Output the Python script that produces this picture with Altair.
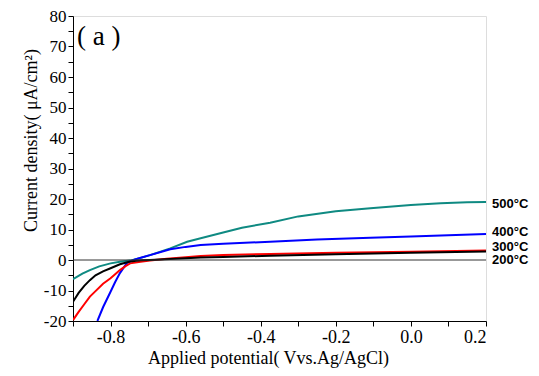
import altair as alt
import pandas as pd

# 500°C (teal)
x500 = [-0.9, -0.875, -0.855, -0.83, -0.8, -0.775, -0.748, -0.72, -0.695, -0.641, -0.596, -0.56, -0.5, -0.45, -0.375, -0.3, -0.2, -0.108, 0.0, 0.079, 0.15, 0.2]
y500 = [-6.3, -4.5, -3.3, -2.1, -1.1, -0.6, -0.2, 0.7, 1.6, 3.8, 6.0, 7.1, 9.0, 10.6, 12.2, 14.3, 16.0, 17.0, 18.0, 18.6, 18.9, 19.0]
# 400°C (blue)
x400 = [-0.835, -0.82, -0.8, -0.788, -0.775, -0.765, -0.756, -0.735, -0.715, -0.695, -0.641, -0.6, -0.56, -0.5, -0.375, -0.25, -0.108, 0.0, 0.1, 0.2]
y400 = [-20.0, -15.5, -10.4, -7.3, -4.3, -2.5, -0.9, 0.2, 0.9, 1.6, 3.5, 4.3, 4.9, 5.3, 6.0, 6.7, 7.3, 7.7, 8.1, 8.5]
# 300°C (red)
x300 = [-0.9, -0.885, -0.87, -0.855, -0.84, -0.82, -0.8, -0.787, -0.775, -0.76, -0.748, -0.72, -0.695, -0.65, -0.6, -0.56, -0.5, -0.375, -0.2, 0.0, 0.2]
y300 = [-19.7, -17.0, -14.5, -12.0, -10.2, -7.8, -6.0, -4.6, -3.3, -2.0, -1.1, -0.6, -0.2, 0.4, 0.9, 1.3, 1.6, 2.0, 2.4, 2.7, 3.1]
# 200°C (black)
x200 = [-0.9, -0.885, -0.87, -0.855, -0.84, -0.82, -0.8, -0.775, -0.748, -0.72, -0.695, -0.6, -0.56, -0.5, -0.375, -0.2, 0.0, 0.2]
y200 = [-13.7, -10.8, -8.5, -6.6, -5.0, -3.7, -2.7, -1.4, -0.5, -0.1, 0.0, 0.6, 0.8, 1.0, 1.4, 1.9, 2.4, 2.8]

labels = ["500\u00b0C", "400\u00b0C", "300\u00b0C", "200\u00b0C"]
label_y = [18.4, 9.3, 4.4, -0.1]
colors = ["#0f8a82", "#0000ff", "#ff0000", "#000000"]

x_ticks = [-0.9, -0.8, -0.7, -0.6, -0.5, -0.4, -0.3, -0.2, -0.1, 0.0, 0.1, 0.2]
y_ticks = [-20, -15, -10, -5, 0, 5, 10, 15, 20, 25, 30, 35, 40, 45, 50, 55, 60, 65, 70, 75, 80]

rows = []
for name, xs, ys in [(labels[0], x500, y500), (labels[1], x400, y400),
                     (labels[2], x300, y300), (labels[3], x200, y200)]:
    for i, (a, b) in enumerate(zip(xs, ys)):
        rows.append({"series": name, "x": a, "y": b, "order": i})
df = pd.DataFrame(rows)

xscale = alt.Scale(domain=[-0.9, 0.2], nice=False, zero=False)
yscale = alt.Scale(domain=[-20, 80], nice=False, zero=False)

SERIF = "Liberation Serif"

x_axis = alt.Axis(title="Applied potential( Vvs.Ag/AgCl)",
                  values=x_ticks, tickCount=40,
                  labelExpr="abs(round(datum.value*10)) % 2 == 0 ? replace(format(datum.value, '.1f'), '\u2212', '-') : ''",
                  grid=False, tickSize=5, labelOverlap=False,
                  labelFontSize=18, titleFontSize=18,
                  labelFont=SERIF, titleFont=SERIF, titleFontWeight="normal",
                  labelColor="black", titleColor="black",
                  domainColor="black", tickColor="black",
                  labelPadding=2, titleX=195, titleY=42,
                  titleBaseline="alphabetic", titleAnchor="start",
                  titleAlign="center")
y_axis = alt.Axis(title="Current density( \u03bcA/cm\u00b2)",
                  values=y_ticks, tickCount=50,
                  labelExpr="abs(round(datum.value)) % 10 == 0 ? replace(format(datum.value, 'd'), '\u2212', '-') : ''",
                  grid=False, tickSize=5, labelOverlap=False,
                  labelFontSize=17, titleFontSize=18,
                  labelFont=SERIF, titleFont=SERIF, titleFontWeight="normal",
                  labelColor="black", titleColor="black",
                  domainColor="black", tickColor="black",
                  labelPadding=2, titleX=-37, titleY=124,
                  titleAngle=-90, titleAlign="center",
                  titleBaseline="alphabetic")

lines = alt.Chart(df).mark_line(strokeWidth=2, clip=True).encode(
    x=alt.X("x:Q", scale=xscale, axis=x_axis),
    y=alt.Y("y:Q", scale=yscale, axis=y_axis),
    color=alt.Color("series:N", scale=alt.Scale(domain=labels, range=colors), legend=None),
    order="order:Q",
)

zero_df = pd.DataFrame({"y": [0]})
zero = alt.Chart(zero_df).mark_rule(color="#333333", strokeWidth=1).encode(
    y=alt.Y("y:Q", scale=yscale, axis=y_axis))

lab_df = pd.DataFrame({"label": labels, "y": label_y})
lab = alt.Chart(lab_df).mark_text(align="left", baseline="middle", dx=6,
                                   font="Liberation Sans", fontWeight="bold",
                                   fontSize=13, color="black").encode(
    x=alt.value(413), y=alt.Y("y:Q", scale=yscale, axis=y_axis), text="label:N")

tag_df = pd.DataFrame({"t": ["( a )"]})
tag = alt.Chart(tag_df).mark_text(align="left", baseline="middle", font=SERIF,
                                  fontSize=27, color="black").encode(
    x=alt.value(4), y=alt.value(21), text="t:N")

chart = alt.layer(lines, zero, lab, tag).properties(
    width=413, height=305,
    autosize=alt.AutoSizeParams(type="none"),
    padding={"left": 65, "top": 8, "right": 45, "bottom": 47},
).configure_view(stroke="black", strokeWidth=1).configure(background="white")

chart.save("out.html", embed_options={"renderer": "svg", "actions": False})
